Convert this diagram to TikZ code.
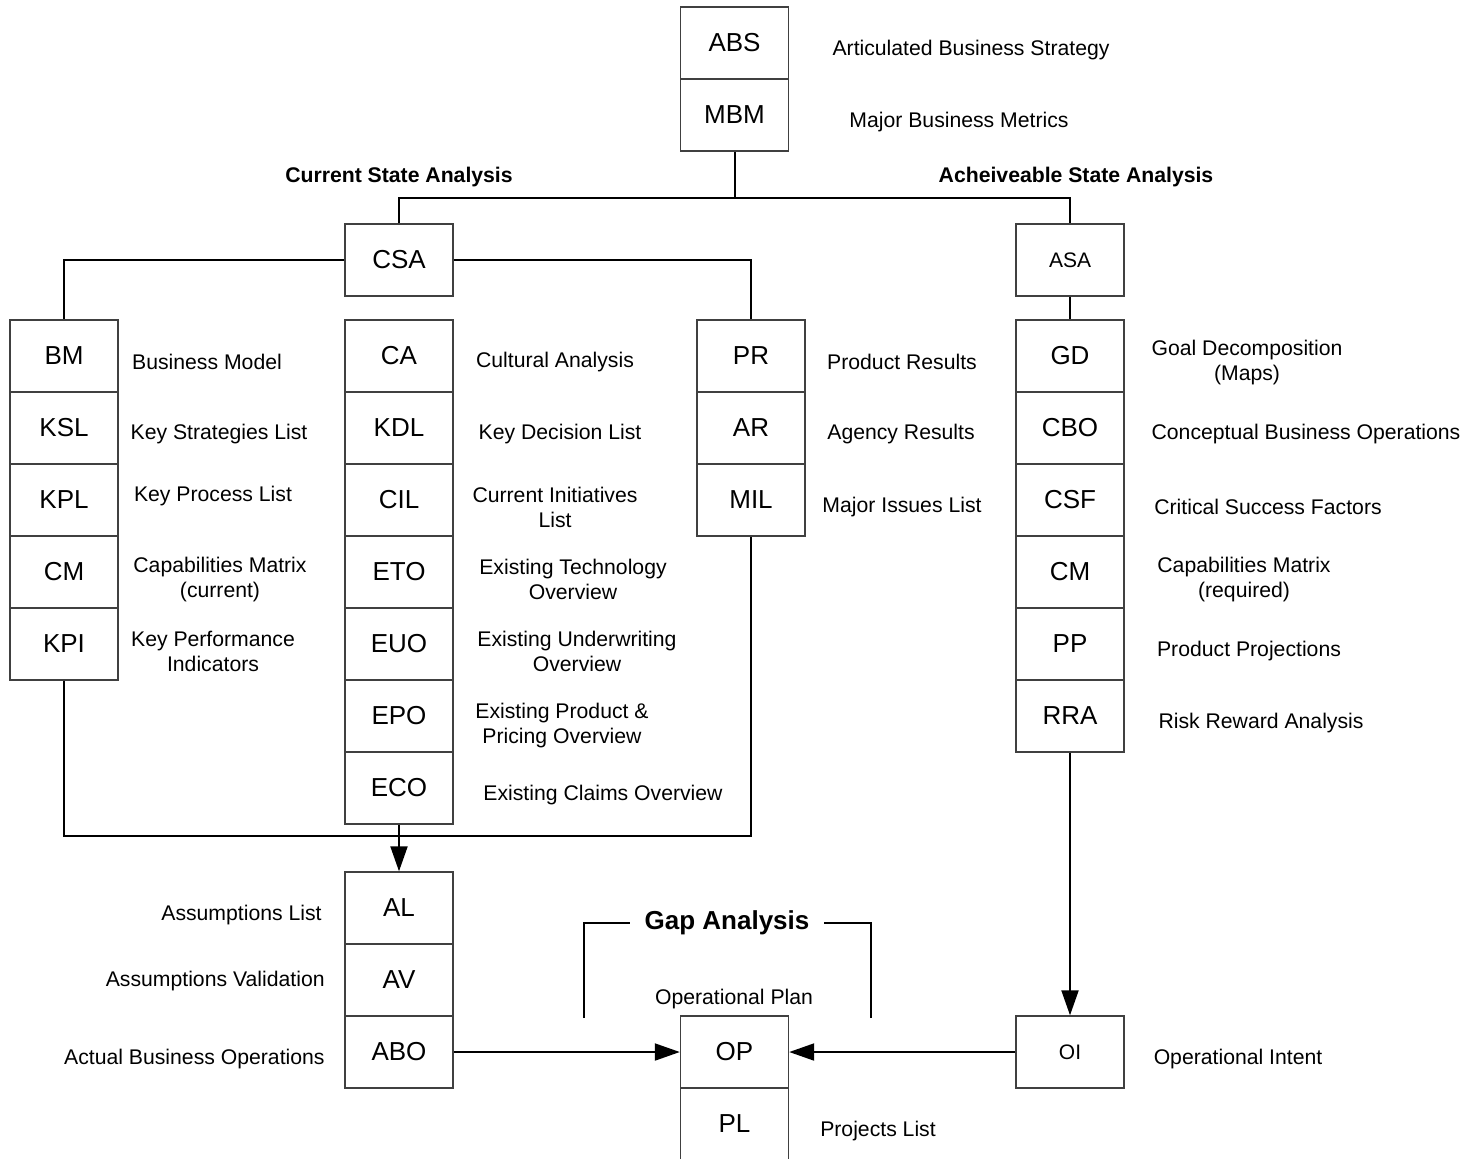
\documentclass[tikz,border=0pt]{standalone}
\usepackage{fontspec}
\setmainfont{Liberation Sans}
\usetikzlibrary{arrows.meta}
\begin{document}
\begin{tikzpicture}[x=0.5pt,y=-0.5pt,
  bx/.style={draw=black!75,line width=0.7pt,minimum width=54pt,minimum height=36pt,inner sep=0pt,font=\fontsize{13}{15}\selectfont},
  sbx/.style={bx,font=\fontsize{10.5}{12.5}\selectfont},
  lbl/.style={font=\fontsize{10.6}{12.5}\selectfont,align=center,inner sep=0pt,yshift=-1.2pt},
  lblr/.style={lbl,anchor=east},
  hdr/.style={font=\bfseries\fontsize{10.6}{12.5}\selectfont,inner sep=0pt,yshift=-1pt},
  gap/.style={font=\bfseries\fontsize{13}{15}\selectfont,inner sep=7pt,yshift=-1pt},
  conn/.style={line width=1pt,black},
  arr/.style={conn,-{Triangle[length=12.5pt,width=8.5pt]}}]
\useasboundingbox (0,0) rectangle (1481,1158);
% top
\node[bx] (ABS) at (734.5,43) {ABS};
\node[bx] (MBM) at (734.5,115) {MBM};
\node[lbl] (lABS) at (971,48) {Articulated Business Strategy};
\node[lbl] (lMBM) at (959,120) {Major Business Metrics};
\node[hdr] (hCSA) at (399,175) {Current State Analysis};
\node[hdr] (hASA) at (1076,175) {Acheiveable State Analysis};
\node[bx] (CSA) at (399,260) {CSA};
\node[sbx] (ASA) at (1070,260) {ASA};
% left column
\node[bx] (BM) at (64,356) {BM};
\node[bx] (KSL) at (64,428) {KSL};
\node[bx] (KPL) at (64,500) {KPL};
\node[bx] (CMa) at (64,572) {CM};
\node[bx] (KPI) at (64,644) {KPI};
\node[lbl] (lBM) at (207,360) {Business Model};
\node[lbl] (lKSL) at (219,432) {Key Strategies List};
\node[lbl] (lKPL) at (213,494) {Key Process List};
\node[lbl] (lCMa) at (220,577) {Capabilities Matrix\\(current)};
\node[lbl] (lKPI) at (213,649) {Key Performance\\Indicators};
% middle column
\node[bx] (CA) at (399,356) {CA};
\node[bx] (KDL) at (399,428) {KDL};
\node[bx] (CIL) at (399,500) {CIL};
\node[bx] (ETO) at (399,572) {ETO};
\node[bx] (EUO) at (399,644) {EUO};
\node[bx] (EPO) at (399,716) {EPO};
\node[bx] (ECO) at (399,788) {ECO};
\node[lbl] (lCA) at (555,360) {Cultural Analysis};
\node[lbl] (lKDL) at (560,432) {Key Decision List};
\node[lbl] (lCIL) at (555,505) {Current Initiatives\\List};
\node[lbl] (lETO) at (573,577) {Existing Technology\\Overview};
\node[lbl] (lEUO) at (577,649) {Existing Underwriting\\Overview};
\node[lbl] (lEPO) at (562,723) {Existing Product \&\\Pricing Overview};
\node[lbl] (lECO) at (603,793) {Existing Claims Overview};
% PR column
\node[bx] (PR) at (751,356) {PR};
\node[bx] (AR) at (751,428) {AR};
\node[bx] (MIL) at (751,500) {MIL};
\node[lbl] (lPR) at (902,360) {Product Results};
\node[lbl] (lAR) at (901,432) {Agency Results};
\node[lbl] (lMIL) at (902,505) {Major Issues List};
% right column
\node[bx] (GD) at (1070,356) {GD};
\node[bx] (CBO) at (1070,428) {CBO};
\node[bx] (CSF) at (1070,500) {CSF};
\node[bx] (CMb) at (1070,572) {CM};
\node[bx] (PP) at (1070,644) {PP};
\node[bx] (RRA) at (1070,716) {RRA};
\node[lbl] (lGD) at (1247,360) {Goal Decomposition\\(Maps)};
\node[lbl] (lCBO) at (1306,432) {Conceptual Business Operations};
\node[lbl] (lCSF) at (1268,505) {Critical Success Factors};
\node[lbl] (lCMb) at (1244,577) {Capabilities Matrix\\(required)};
\node[lbl] (lPP) at (1249,649) {Product Projections};
\node[lbl] (lRRA) at (1261,721) {Risk Reward Analysis};
% bottom
\node[bx] (AL) at (399,908) {AL};
\node[bx] (AV) at (399,980) {AV};
\node[bx] (ABO) at (399,1052) {ABO};
\node[lblr] (lAL) at (322,913) {Assumptions List};
\node[lblr] (lAV) at (325,979) {Assumptions Validation};
\node[lblr] (lABO) at (325,1057) {Actual Business Operations};
\node[bx] (OP) at (734.5,1052) {OP};
\node[bx] (PL) at (734.5,1124) {PL};
\node[lbl] (lOP) at (734,997) {Operational Plan};
\node[lbl] (lPL) at (878,1129) {Projects List};
\node[sbx] (OI) at (1070,1052) {OI};
\node[lbl] (lOI) at (1238,1057) {Operational Intent};
\node[gap] (gap) at (727,921) {Gap Analysis};
% connectors
\coordinate (j1) at (734.5,198);
\coordinate (busy) at (0,836);
\coordinate (gl) at (584,1018);
\coordinate (gr) at (871,1018);
\draw[conn] (MBM.south) -- (j1);
\draw[conn] (CSA.north) |- (j1) -| (ASA.north);
\draw[conn] (CSA.west) -| (BM.north);
\draw[conn] (CSA.east) -| (PR.north);
\draw[conn] (ASA.south) -- (GD.north);
\draw[conn] (KPI.south) |- (busy -| MIL.south) -- (MIL.south);
\draw[arr] (ECO.south) -- (AL.north);
\draw[arr] (RRA.south) -- (OI.north);
\draw[arr] (ABO.east) -- (OP.west);
\draw[arr] (OI.west) -- (OP.east);
\draw[conn] (gl) |- (gap.west);
\draw[conn] (gr) |- (gap.east);
\end{tikzpicture}
\end{document}
